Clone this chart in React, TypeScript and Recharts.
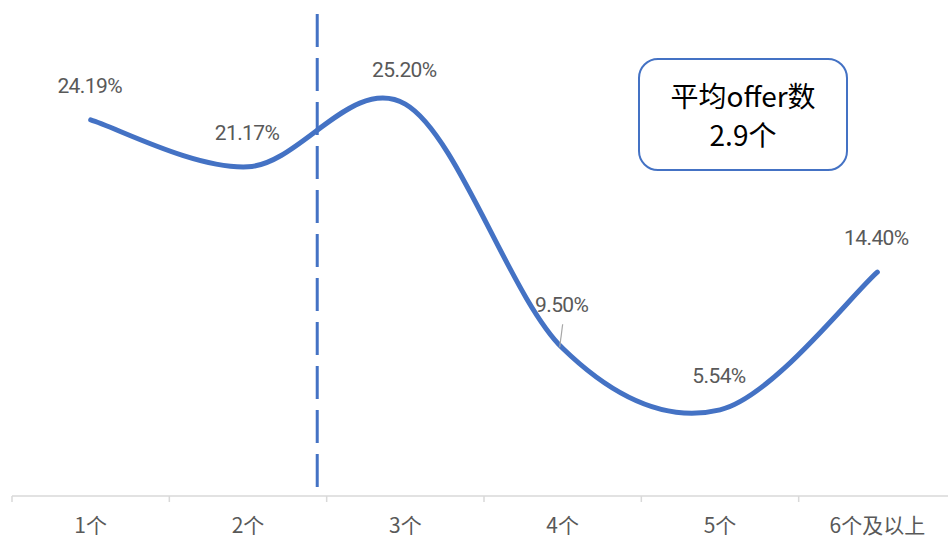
import React from 'react';
import { LineChart, Line, XAxis, YAxis, ReferenceLine, LabelList } from 'recharts';

const categories = ['1个', '2个', '3个', '4个', '5个', '6个及以上'];
const shares = [24.19, 21.17, 25.2, 9.5, 5.54, 14.4];
const valueLabels = ['24.19%', '21.17%', '25.20%', '9.50%', '5.54%', '14.40%'];
const axisTicks = [0, 0.5, 1, 1.5, 2, 2.5, 3, 3.5, 4, 4.5, 5, 5.5, 6];
const dividerPosition = 1.94;
const boxLines = ['平均offer数', '2.9个'];

const data = categories.map((c, i) => ({ name: c, pos: i + 0.5, value: shares[i] }));

const BLUE = '#4472C4';
const GRAY = '#595959';
const AXIS = '#D9D9D9';
const FONT = 'Roboto, "Noto Sans CJK SC", sans-serif';
const CJK = '"Noto Sans CJK SC", sans-serif';

// Excel-like smoothed line (Catmull-Rom through points)
function smoothCurve(context: any) {
  let pts: number[][] = [];
  return {
    areaStart() {},
    areaEnd() {},
    lineStart() {
      pts = [];
    },
    lineEnd() {
      const n = pts.length;
      if (!n) return;
      context.moveTo(pts[0][0], pts[0][1]);
      for (let i = 0; i < n - 1; i++) {
        const p0 = pts[Math.max(i - 1, 0)];
        const p1 = pts[i];
        const p2 = pts[i + 1];
        const p3 = pts[Math.min(i + 2, n - 1)];
        context.bezierCurveTo(
          p1[0] + (p2[0] - p0[0]) / 6,
          p1[1] + (p2[1] - p0[1]) / 6,
          p2[0] - (p3[0] - p1[0]) / 6,
          p2[1] - (p3[1] - p1[1]) / 6,
          p2[0],
          p2[1]
        );
      }
    },
    point(x: number, y: number) {
      pts.push([+x, +y]);
    },
  };
}

const AxisTick = (props: any) => {
  const { x, y, payload } = props;
  const v = Number(payload.value);
  if (Number.isInteger(v)) {
    return <line x1={x} y1={y} x2={x} y2={y + 6} stroke={AXIS} strokeWidth={1.5} />;
  }
  const name = categories[Math.floor(v)];
  return (
    <text x={x} y={y + 28} textAnchor="middle" dominantBaseline="central" fill={GRAY} fontSize={21} fontFamily={CJK}>
      {name}
    </text>
  );
};

const renderLabel = (props: any) => {
  const { x, y, index } = props;
  const text = valueLabels[index];
  const special = index === 3;
  const ty = special ? y - 43 : y - 34;
  return (
    <g key={`lbl-${index}`}>
      {special && <line x1={x} y1={y - 24} x2={x - 3} y2={y - 1} stroke="#A6A6A6" strokeWidth={1.2} />}
      <text
        x={x - 1}
        y={ty}
        textAnchor="middle"
        dominantBaseline="central"
        fill={GRAY}
        fontSize={21}
        fontFamily={FONT}
        letterSpacing={-0.6}
      >
        {text}
      </text>
    </g>
  );
};

export default function App() {
  return (
    <div style={{ position: 'absolute', left: 0, top: 0, width: 948, height: 539, overflow: 'hidden', background: '#fff', fontFamily: FONT }}>
      <LineChart width={960} height={539} data={data} margin={{ top: 14, right: 4, bottom: 0, left: 12 }}>
        <XAxis
          dataKey="pos"
          type="number"
          domain={[0, 6]}
          ticks={axisTicks}
          interval={0}
          height={43}
          axisLine={{ stroke: AXIS, strokeWidth: 1.5 }}
          tickLine={false}
          tickSize={0}
          tickMargin={0}
          tick={<AxisTick />}
          allowDataOverflow
        />
        <YAxis hide domain={[0, 31]} />
        <ReferenceLine x={dividerPosition} stroke={BLUE} strokeWidth={3} strokeDasharray="33 11" strokeDashoffset={35} />
        <Line
          dataKey="value"
          type={smoothCurve as any}
          stroke={BLUE}
          strokeWidth={5}
          strokeLinecap="round"
          dot={false}
          activeDot={false}
          isAnimationActive={false}
        >
          <LabelList dataKey="value" content={renderLabel} />
        </Line>
      </LineChart>
      <div
        style={{
          position: 'absolute',
          left: 638,
          top: 58,
          width: 210,
          height: 113,
          boxSizing: 'border-box',
          border: `2px solid ${BLUE}`,
          borderRadius: 20,
          background: '#fff',
          display: 'flex',
          flexDirection: 'column',
          alignItems: 'center',
          justifyContent: 'center',
          fontFamily: CJK,
          fontSize: 28,
          lineHeight: '39px',
          color: '#000',
        }}
      >
        {boxLines.map((t) => (
          <div key={t}>{t}</div>
        ))}
      </div>
    </div>
  );
}
